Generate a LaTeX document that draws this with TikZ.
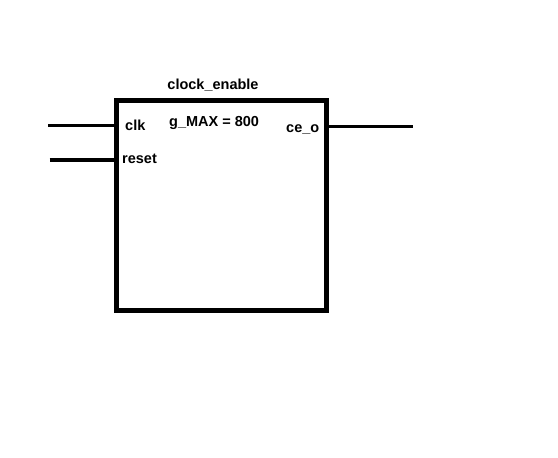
\documentclass[tikz,border=0pt]{standalone}
\usepackage{fontspec}
\setmainfont{Liberation Sans}
\usetikzlibrary{positioning, calc}

\begin{document}
\begin{tikzpicture}[
    x=1pt, y=-1pt,
    font=\fontsize{14.5}{17}\selectfont\bfseries,
    block/.style={draw, line width=5pt, minimum width=210pt, minimum height=209.5pt,
                  inner sep=0pt},
    portlbl/.style={inner sep=0pt, anchor=base west},
    wire/.style={line width=3.5pt},
]
    \useasboundingbox (0,0) rectangle (558,458);

    %==================== BLOCK ====================
    \node[block] (blk) at (221.5,205.5) {};
    \node[inner sep=0pt, anchor=base] (name) at (213,89.3) {clock\_enable};
    \node[portlbl] (gen) at (169,126) {g\_MAX = 800};

    %==================== PORTS ====================
    \node[portlbl] (clk) at (125,130.7) {clk};
    \node[portlbl] (rst) at (122,163) {reset};
    \node[portlbl] (ceo) at (286,132.7) {ce\_o};

    \coordinate (clkin) at (48,125.7);
    \coordinate (rstin) at (49.5,160);
    \coordinate (ceout) at (412.5,126.5);

    \draw[wire] (clkin) -- (clkin -| blk.west);
    \draw[wire] (rstin) -- (rstin -| blk.west);
    \draw[wire] (ceout -| blk.east) -- (ceout);

\end{tikzpicture}
\end{document}
